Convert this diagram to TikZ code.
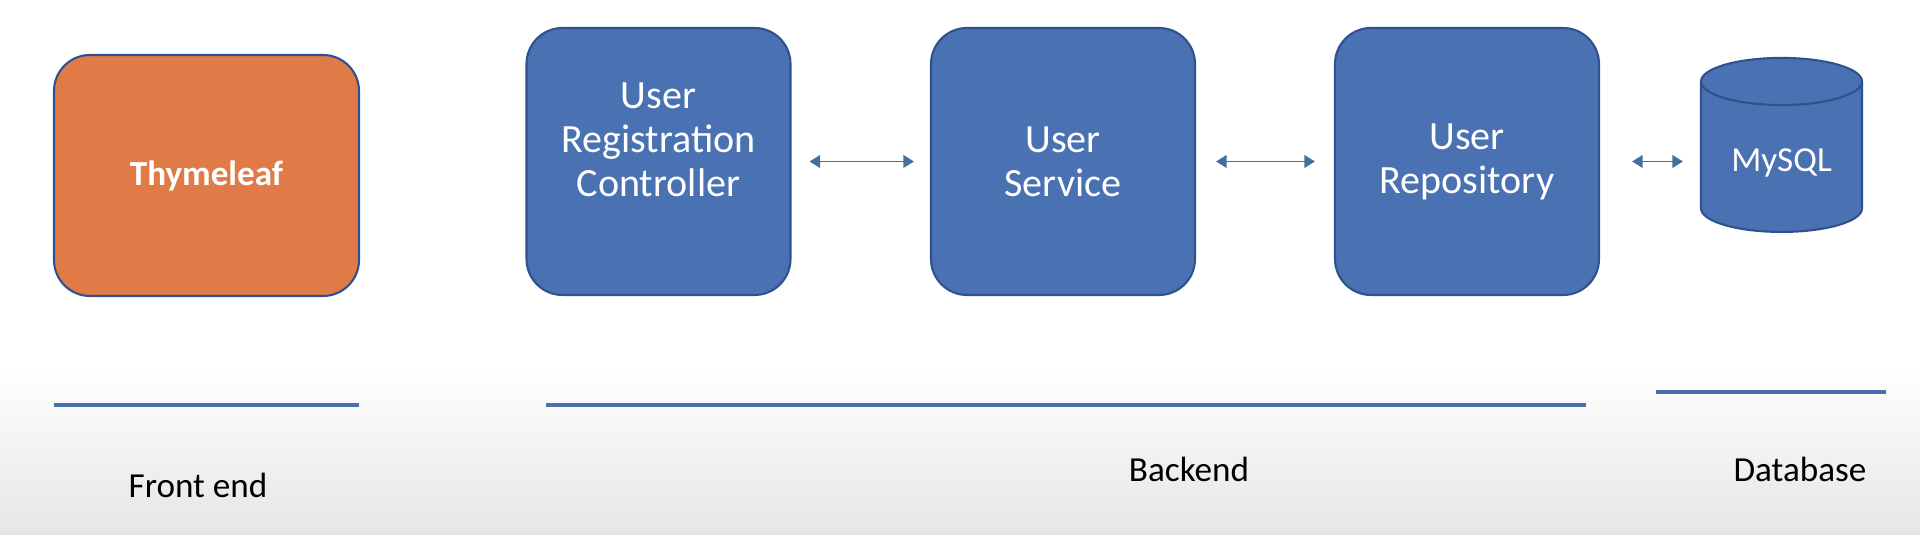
\documentclass[tikz,border=0pt]{standalone}
\usepackage{fontspec}
\setmainfont{Carlito}
\usetikzlibrary{shapes.geometric, arrows.meta}

\definecolor{boxblue}{HTML}{4A72B2}
\definecolor{boxorange}{HTML}{E07B47}
\definecolor{edgeblue}{HTML}{2F528F}
\definecolor{barblue}{HTML}{4A6FAE}
\definecolor{linkblue}{HTML}{41719C}

\begin{document}
\begin{tikzpicture}[
    box/.style={draw=edgeblue, line width=0.6pt, rounded corners=0.36cm, fill=boxblue, text=white,
        minimum width=2.64cm, minimum height=2.67cm, align=center, font=\fontsize{11.4}{12.5}\selectfont},
    link/.style={{Triangle[length=3pt,width=3.6pt]}-{Triangle[length=3pt,width=3.6pt]}, linkblue, line width=0.5pt},
    bar/.style={barblue, line width=1.4pt},
    caption/.style={font=\fontsize{10}{12}\selectfont}
]
    % slide background
    \useasboundingbox (0,0) rectangle (19.2,5.35);
    \fill[white] (0,0) rectangle (19.2,5.35);
    \shade[top color=white, bottom color=gray!20] (0,0) rectangle (19.2,1.7);

    % Layers
    \node[box, fill=boxorange, minimum width=3.05cm, minimum height=2.41cm,
          font=\fontsize{10}{12}\selectfont\bfseries] (thymeleaf) at (2.065,3.595) {Thymeleaf};
    \node[box] (controller) at (6.585,3.735) {User\\Registration\\Controller\\\mbox{}};
    \node[box] (service) at (10.63,3.735) {User\\Service};
    \node[box] (repository) at (14.67,3.735) {User\\Repository};
    \node[shape=cylinder, shape border rotate=90, aspect=0.38, draw=edgeblue, line width=0.6pt,
          fill=boxblue, text=white, minimum width=1.61cm, minimum height=1.74cm,
          font=\fontsize{10}{12}\selectfont, anchor=south] (mysql) at (17.815,3.02) {MySQL};

    % Calls between layers
    \draw[link, shorten <=0.18cm, shorten >=0.16cm] (controller) -- (service);
    \draw[link, shorten <=0.2cm, shorten >=0.19cm] (service) -- (repository);
    \draw[link, shorten <=0.32cm, shorten >=0.17cm] (repository.east) -- (repository.east -| mysql.west);

    % Tiers
    \draw[bar] (0.54,1.30) -- (3.59,1.30);
    \draw[bar] (5.46,1.30) -- (15.86,1.30);
    \draw[bar] (16.56,1.43) -- (18.86,1.43);
    \node[caption] (frontend) at (1.98,0.50) {Front end};
    \node[caption] (backend) at (11.89,0.66) {Backend};
    \node[caption] (database) at (18.00,0.66) {Database};
\end{tikzpicture}
\end{document}
